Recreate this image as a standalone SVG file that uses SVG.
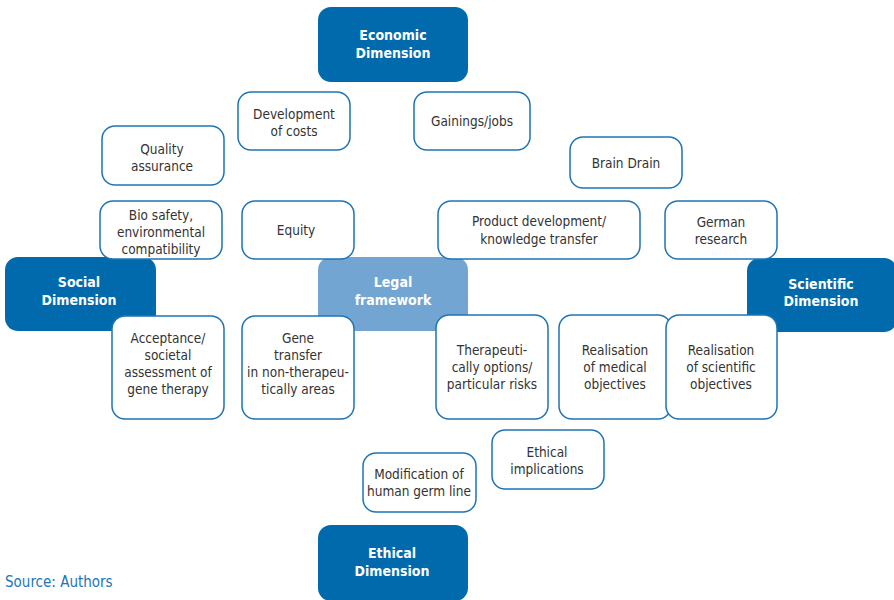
<svg xmlns="http://www.w3.org/2000/svg" width="894" height="600" viewBox="0 0 894 600">
  <style>
    .dim { fill: #006aad; }
    .legal { fill: #72a5d2; }
    .box { fill: #ffffff; stroke: #1f74b4; stroke-width: 1.5; }
    text { font-family: "Liberation Sans Narrow", "DejaVu Sans Condensed", "Liberation Sans", sans-serif; text-anchor: middle; }
    .lbl { font-size: 13.5px; fill: #333333; }
    .dlbl { font-size: 14px; font-weight: bold; fill: #ffffff; }
    .src { font-size: 15px; fill: #1f74b4; text-anchor: start; }
  </style>
  <rect width="894" height="600" fill="#ffffff"/>

  <!-- dimension blocks -->
  <g id="economic"><rect class="dim" x="318" y="7" width="150" height="75" rx="13"/>
    <text class="dlbl" x="393" y="40">Economic</text><text class="dlbl" x="393" y="58">Dimension</text></g>
  <g id="social"><rect class="dim" x="5" y="257" width="151" height="74" rx="13"/>
    <text class="dlbl" x="79" y="287">Social</text><text class="dlbl" x="79" y="305">Dimension</text></g>
  <g id="legal"><rect class="legal" x="318" y="257" width="150" height="74" rx="13"/>
    <text class="dlbl" x="393" y="287">Legal</text><text class="dlbl" x="393" y="305">framework</text></g>
  <g id="scientific"><rect class="dim" x="747" y="258" width="150" height="74" rx="13"/>
    <text class="dlbl" x="821" y="289">Scientific</text><text class="dlbl" x="821" y="306">Dimension</text></g>
  <g id="ethical"><rect class="dim" x="318" y="525" width="150" height="76" rx="13"/>
    <text class="dlbl" x="392" y="558">Ethical</text><text class="dlbl" x="392" y="576">Dimension</text></g>

  <!-- aspect boxes -->
  <g id="dev-costs"><rect class="box" x="238" y="92" width="112" height="58" rx="13"/>
    <text class="lbl" x="294" y="119">Development</text><text class="lbl" x="294" y="136">of costs</text></g>
  <g id="gainings"><rect class="box" x="414" y="92" width="116" height="58" rx="13"/>
    <text class="lbl" x="472" y="126">Gainings/jobs</text></g>
  <g id="quality"><rect class="box" x="102" y="126" width="122" height="59" rx="13"/>
    <text class="lbl" x="162" y="154">Quality</text><text class="lbl" x="162" y="171">assurance</text></g>
  <g id="brain-drain"><rect class="box" x="570" y="137" width="112" height="51" rx="13"/>
    <text class="lbl" x="626" y="168">Brain Drain</text></g>
  <g id="bio-safety"><rect class="box" x="100" y="201" width="122" height="58" rx="13"/>
    <text class="lbl" x="161" y="220">Bio safety,</text><text class="lbl" x="161" y="237">environmental</text><text class="lbl" x="161" y="254">compatibility</text></g>
  <g id="equity"><rect class="box" x="242" y="201" width="112" height="58" rx="13"/>
    <text class="lbl" x="296" y="235">Equity</text></g>
  <g id="product-dev"><rect class="box" x="438" y="201" width="202" height="58" rx="13"/>
    <text class="lbl" x="539" y="226">Product development/</text><text class="lbl" x="539" y="244">knowledge transfer</text></g>
  <g id="german-research"><rect class="box" x="665" y="201" width="112" height="58" rx="13"/>
    <text class="lbl" x="721" y="227">German</text><text class="lbl" x="721" y="244">research</text></g>
  <g id="acceptance"><rect class="box" x="112" y="316" width="112" height="103" rx="13"/>
    <text class="lbl" x="168" y="343">Acceptance/</text><text class="lbl" x="168" y="360">societal</text><text class="lbl" x="168" y="377">assessment of</text><text class="lbl" x="168" y="394">gene therapy</text></g>
  <g id="gene-transfer"><rect class="box" x="242" y="316" width="112" height="103" rx="13"/>
    <text class="lbl" x="298" y="343">Gene</text><text class="lbl" x="298" y="360">transfer</text><text class="lbl" x="298" y="377">in non-therapeu-</text><text class="lbl" x="298" y="394">tically areas</text></g>
  <g id="therapeutic"><rect class="box" x="436" y="315" width="112" height="104" rx="13"/>
    <text class="lbl" x="492" y="355">Therapeuti-</text><text class="lbl" x="492" y="372">cally options/</text><text class="lbl" x="492" y="389">particular risks</text></g>
  <g id="medical"><rect class="box" x="559" y="315" width="112" height="104" rx="13"/>
    <text class="lbl" x="615" y="355">Realisation</text><text class="lbl" x="615" y="372">of medical</text><text class="lbl" x="615" y="389">objectives</text></g>
  <g id="scientific-obj"><rect class="box" x="666" y="315" width="111" height="104" rx="13"/>
    <text class="lbl" x="721" y="355">Realisation</text><text class="lbl" x="721" y="372">of scientific</text><text class="lbl" x="721" y="389">objectives</text></g>
  <g id="ethical-impl"><rect class="box" x="492" y="430" width="112" height="59" rx="13"/>
    <text class="lbl" x="547" y="457">Ethical</text><text class="lbl" x="547" y="474">implications</text></g>
  <g id="germ-line"><rect class="box" x="363" y="453" width="113" height="59" rx="13"/>
    <text class="lbl" x="419" y="479">Modification of</text><text class="lbl" x="419" y="496">human germ line</text></g>

  <!-- no connectors in this diagram -->
  <g id="connectors"></g>

  <text class="src" x="5" y="587">Source: Authors</text>
</svg>
